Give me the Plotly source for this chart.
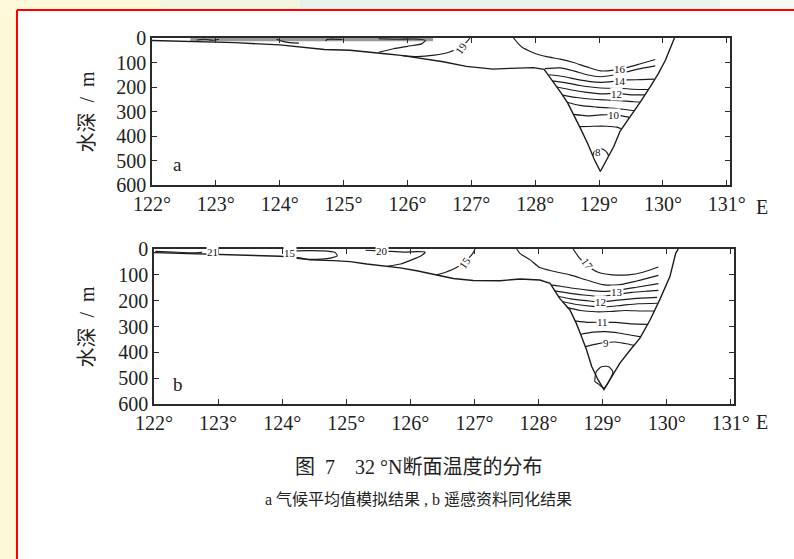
import plotly.graph_objects as go

W, H = 794, 559

SERIF = "Liberation Serif, 'Times New Roman', serif"
CJK = "'Liberation Serif', 'Noto Sans CJK SC', serif"
INK = "#1c1c1c"

# ---- axes -----------------------------------------------------------------
LON_TICKS = [122, 123, 124, 125, 126, 127, 128, 129, 130, 131]
LON_LABELS = ["122°", "123°", "124°", "125°", "126°", "127°", "128°", "129°", "130°", "131°"]
DEPTH_TICKS = [0, 100, 200, 300, 400, 500, 600]
DEPTH_LABELS = ["0", "100", "200", "300", "400", "500", "600"]
LON_RANGE = [122, 131.05]
DEPTH_RANGE = [600, 0]

# ---- panel a: climatological-mean run, (lon °E, depth m) -----------------
A_BOTTOM = [(122.0, 10), (122.6, 14), (123.3, 19), (124.0, 28), (124.3, 35), (124.7, 47),
            (125.1, 50), (125.4, 56), (125.65, 64), (125.9, 71), (126.2, 83), (126.56, 97),
            (126.92, 116), (127.34, 127), (127.6, 124), (127.97, 121), (128.14, 128),
            (128.30, 185), (128.41, 226), (128.51, 266), (128.62, 321), (128.72, 375),
            (128.83, 436), (128.93, 498), (129.02, 545), (129.12, 498), (129.23, 443),
            (129.33, 380), (129.49, 321), (129.65, 260), (129.80, 199), (129.93, 144),
            (130.04, 90), (130.12, 42), (130.18, 0)]
A_SURFACE_BAND = [(122.6, 3), (126.4, 3)]
A_SURF_1 = [(122.70, 8), (122.82, 5), (122.95, 9), (123.05, 5)]
A_SURF_2 = [(123.95, 5), (124.05, 14), (124.15, 19), (124.30, 21)]
A_SURF_3 = [(124.72, 12), (124.74, 6), (124.98, 6)]
A_SURF_4 = [(125.55, 3), (125.85, 5), (126.10, 4), (126.28, 10), (126.22, 24), (126.00, 34),
            (125.78, 44), (125.55, 58)]
A_ISO_19 = [(126.98, 0), (126.92, 18), (126.82, 38), (126.65, 58), (126.42, 70), (126.15, 76),
            (125.92, 72)]
A_ISO_1 = [(127.66, 0), (127.78, 35), (127.97, 60), (128.18, 76), (128.39, 86), (128.60, 100),
           (128.81, 118), (129.02, 134), (129.23, 131), (129.44, 120), (129.65, 105), (129.88, 88)]
A_ISO_2 = [(128.15, 125), (128.39, 122), (128.60, 134), (128.81, 150), (129.02, 158),
           (129.23, 151), (129.44, 138), (129.65, 125), (129.88, 114)]
A_ISO_3 = [(128.21, 150), (128.44, 157), (128.65, 169), (128.86, 178), (129.02, 181),
           (129.23, 177), (129.44, 171), (129.65, 170), (129.86, 168)]
A_ISO_4 = [(128.27, 175), (128.49, 183), (128.70, 194), (128.91, 201), (129.12, 205),
           (129.33, 205), (129.54, 209), (129.77, 210)]
A_ISO_5 = [(128.34, 200), (128.55, 211), (128.81, 222), (129.02, 228), (129.28, 226),
           (129.50, 232), (129.72, 232)]
A_ISO_6 = [(128.43, 233), (128.65, 243), (128.91, 250), (129.12, 253), (129.33, 256),
           (129.54, 260), (129.65, 261)]
A_ISO_7 = [(128.50, 262), (128.70, 275), (128.96, 282), (129.17, 286), (129.38, 291),
           (129.55, 297)]
A_ISO_8 = [(128.60, 312), (128.81, 318), (129.02, 314), (129.23, 314), (129.44, 322),
           (129.48, 325)]
A_ISO_9 = [(128.70, 362), (128.91, 360), (129.12, 360), (129.28, 364), (129.34, 370)]
A_ISO_10 = [(128.90, 480), (128.93, 462), (128.99, 452), (129.07, 455), (129.13, 470),
            (129.15, 482)]
A_LABELS = [("19", 126.84, 40, -55), ("16", 129.33, 126, 0), ("14", 129.33, 174, 0),
            ("12", 129.28, 227, 0), ("10", 129.23, 314, 0), ("8", 128.99, 466, 0)]

# ---- panel b: satellite-data assimilation run ----------------------------
B_BOTTOM = [(122.0, 14), (122.72, 20), (123.5, 26), (123.97, 28), (124.28, 35), (124.43, 42),
            (124.8, 45), (125.06, 49), (125.32, 58), (125.58, 66), (125.84, 73), (126.10, 84),
            (126.41, 100), (126.67, 114), (126.98, 122), (127.40, 123), (127.71, 116),
            (128.02, 120), (128.18, 133), (128.33, 191), (128.49, 236), (128.59, 288),
            (128.67, 339), (128.75, 391), (128.83, 455), (128.93, 507), (129.02, 544),
            (129.11, 507), (129.27, 442), (129.43, 391), (129.58, 346), (129.74, 275),
            (129.89, 197), (130.05, 107), (130.14, 17), (130.18, 0)]
B_SURF_1 = [(122.02, 9), (122.30, 12), (122.60, 15), (122.75, 13)]
B_LENS = [(124.05, 28), (124.07, 14), (124.23, 7), (124.64, 7), (124.82, 13), (124.86, 26),
          (124.70, 37), (124.43, 40), (124.20, 36), (124.05, 28)]
B_TONGUE = [(125.30, 5), (125.60, 8), (125.90, 12), (126.10, 10), (126.23, 12), (126.17, 26),
            (126.00, 44), (125.85, 58), (125.65, 66)]
B_ISO_15 = [(127.01, 0), (126.96, 22), (126.85, 48), (126.72, 72), (126.55, 90), (126.41, 100)]
B_ISO_1 = [(128.54, 0), (128.63, 32), (128.75, 62), (128.93, 90), (129.15, 100), (129.40, 100),
           (129.63, 90), (129.87, 70)]
B_ISO_2 = [(127.66, 0), (127.71, 17), (127.87, 42), (128.02, 72), (128.23, 86), (128.49, 100),
           (128.75, 120), (129.00, 138), (129.27, 138), (129.53, 124), (129.87, 102)]
B_ISO_3 = [(128.20, 140), (128.35, 144), (128.54, 152), (128.80, 160), (129.01, 164),
           (129.27, 158), (129.53, 148), (129.87, 134)]
B_ISO_4 = [(128.25, 162), (128.45, 170), (128.70, 178), (128.96, 183), (129.20, 177),
           (129.45, 168), (129.70, 163), (129.87, 160)]
B_ISO_5 = [(128.31, 184), (128.50, 193), (128.75, 200), (128.96, 205), (129.20, 199),
           (129.45, 193), (129.70, 189), (129.85, 187)]
B_ISO_6 = [(128.37, 203), (128.60, 215), (128.85, 222), (129.05, 224), (129.30, 218),
           (129.55, 212), (129.86, 210)]
B_ISO_7 = [(128.44, 226), (128.65, 238), (128.90, 243), (129.10, 242), (129.35, 238),
           (129.60, 240), (129.81, 240)]
B_ISO_8 = [(128.57, 278), (128.78, 284), (129.00, 283), (129.20, 284), (129.45, 290),
           (129.71, 292)]
B_ISO_9 = [(128.66, 330), (128.85, 322), (129.05, 320), (129.25, 325), (129.45, 334),
           (129.60, 340)]
B_ISO_10 = [(128.73, 378), (128.90, 368), (129.05, 362), (129.20, 360), (129.35, 366),
            (129.49, 373)]
B_LOOP = [(128.88, 513), (128.90, 475), (128.98, 456), (129.09, 455), (129.16, 475),
          (129.11, 507), (129.02, 538), (128.93, 522), (128.88, 513)]
B_LABELS = [("21", 122.92, 11, 0), ("15", 124.12, 17, 0), ("20", 125.55, 9, 0),
            ("15", 126.86, 52, -55), ("17", 128.76, 60, 55), ("13", 129.22, 166, 0),
            ("12", 128.96, 204, 0), ("11", 129.00, 283, 0), ("9", 129.06, 365, 0)]

# ---- layout geometry (pixels) ---------------------------------------------
A_X = (152, 730)
A_Y = (38, 185)
B_X = (154, 734)
B_Y = (249, 404)


def px_x(p):
    return p / W


def px_y(p):
    return 1 - p / H


fig = go.Figure()


def add_line(pts, xa, ya, width=1.15, color=INK, smooth=True):
    fig.add_trace(go.Scatter(
        x=[p[0] for p in pts], y=[p[1] for p in pts], mode="lines",
        line=dict(color=color, width=width, shape="spline" if smooth else "linear",
                  smoothing=0.6),
        xaxis=xa, yaxis=ya, hoverinfo="skip", showlegend=False))


# panel a
add_line(A_SURFACE_BAND, "x", "y", width=5, color="#9a9a9a", smooth=False)
add_line(A_BOTTOM, "x", "y", width=1.4, smooth=False)
for ln in [A_SURF_1, A_SURF_2, A_SURF_3, A_SURF_4, A_ISO_19, A_ISO_1, A_ISO_2, A_ISO_3,
           A_ISO_4, A_ISO_5, A_ISO_6, A_ISO_7, A_ISO_8, A_ISO_9, A_ISO_10]:
    add_line(ln, "x", "y")

# panel b
add_line(B_BOTTOM, "x2", "y2", width=1.4, smooth=False)
for ln in [B_SURF_1, B_LENS, B_TONGUE, B_ISO_15, B_ISO_1, B_ISO_2, B_ISO_3, B_ISO_4,
           B_ISO_5, B_ISO_6, B_ISO_7, B_ISO_8, B_ISO_9, B_ISO_10, B_LOOP]:
    add_line(ln, "x2", "y2")

axis_common = dict(
    showline=True, linecolor="#2a2a2a", linewidth=1.6, mirror="allticks",
    ticks="inside", ticklen=5, tickwidth=1.3, tickcolor="#2a2a2a",
    showgrid=False, zeroline=False, fixedrange=True, automargin=False,
    tickfont=dict(family=SERIF, size=20, color="#222"),
)

fig.update_layout(
    width=W, height=H, autosize=False,
    margin=dict(l=0, r=0, t=0, b=0, pad=0),
    paper_bgcolor="white", plot_bgcolor="white",
    showlegend=False,
    font=dict(family=SERIF, color="#222"),
    xaxis=dict(axis_common, domain=[px_x(A_X[0]), px_x(A_X[1])], range=LON_RANGE,
               tickvals=LON_TICKS, ticktext=LON_LABELS, anchor="y"),
    yaxis=dict(axis_common, domain=[px_y(A_Y[1]), px_y(A_Y[0])], range=DEPTH_RANGE,
               tickvals=DEPTH_TICKS, ticktext=DEPTH_LABELS, anchor="x"),
    xaxis2=dict(axis_common, domain=[px_x(B_X[0]), px_x(B_X[1])], range=LON_RANGE,
                tickvals=LON_TICKS, ticktext=LON_LABELS, anchor="y2"),
    yaxis2=dict(axis_common, domain=[px_y(B_Y[1]), px_y(B_Y[0])], range=DEPTH_RANGE,
                tickvals=DEPTH_TICKS, ticktext=DEPTH_LABELS, anchor="x2"),
)

# slide background around the white figure box
shapes = [
    dict(type="rect", xref="paper", yref="paper", x0=0, x1=px_x(18), y0=0, y1=1,
         fillcolor="#FDF9D8", line_width=0, layer="below"),
]
top_strip = [(0, 160, "#FDF9DA"), (160, 300, "#F2F7E0"), (300, 560, "#E6F5EC"),
             (560, 720, "#E9F6EE"), (720, 794, "#F4F9F3")]
for x0, x1, col in top_strip:
    shapes.append(dict(type="rect", xref="paper", yref="paper", x0=px_x(x0), x1=px_x(x1),
                       y0=px_y(11), y1=1, fillcolor=col, line_width=0, layer="below"))
shapes += [
    dict(type="line", xref="paper", yref="paper", x0=px_x(17), x1=px_x(17),
         y0=0, y1=px_y(10), line=dict(color="#FF0000", width=2)),
    dict(type="line", xref="paper", yref="paper", x0=px_x(17), x1=1,
         y0=px_y(10), y1=px_y(10), line=dict(color="#FF0000", width=2)),
]
fig.update_layout(shapes=shapes)

annotations = []
for txt, lon, dep, ang in A_LABELS:
    annotations.append(dict(x=lon, y=dep, xref="x", yref="y", text=txt, showarrow=False,
                            textangle=ang, bgcolor="white", borderpad=0,
                            xanchor="center", yanchor="middle",
                            font=dict(family=SERIF, size=11, color="#111111")))
for txt, lon, dep, ang in B_LABELS:
    annotations.append(dict(x=lon, y=dep, xref="x2", yref="y2", text=txt, showarrow=False,
                            textangle=ang, bgcolor="white", borderpad=0,
                            xanchor="center", yanchor="middle",
                            font=dict(family=SERIF, size=11, color="#111111")))

# panel letters
annotations.append(dict(x=122.4, y=518, xref="x", yref="y", text="a", showarrow=False,
                        xanchor="center", yanchor="middle",
                        font=dict(family=SERIF, size=19, color="#222")))
annotations.append(dict(x=122.37, y=524, xref="x2", yref="y2", text="b", showarrow=False,
                        xanchor="center", yanchor="middle",
                        font=dict(family=SERIF, size=19, color="#222")))

# depth axis titles
for yc in [(A_Y[0] + A_Y[1]) / 2, (B_Y[0] + B_Y[1]) / 2]:
    annotations.append(dict(x=px_x(86), y=px_y(yc), xref="paper", yref="paper",
                            text="水深  /  m", textangle=-90, showarrow=False,
                            xanchor="center", yanchor="middle",
                            font=dict(family=CJK, size=20, color="#222")))

# hemisphere letter after the last longitude label
for ylab in [207, 422]:
    annotations.append(dict(x=px_x(762), y=px_y(ylab), xref="paper", yref="paper",
                            text="E", showarrow=False, xanchor="center", yanchor="middle",
                            font=dict(family=SERIF, size=20, color="#222")))

# caption
annotations.append(dict(x=px_x(418), y=px_y(467), xref="paper", yref="paper",
                        text="图  7    32 °N断面温度的分布", showarrow=False,
                        xanchor="center", yanchor="middle",
                        font=dict(family=CJK, size=20, color="#222")))
annotations.append(dict(x=px_x(418), y=px_y(499), xref="paper", yref="paper",
                        text="a 气候平均值模拟结果 , b 遥感资料同化结果", showarrow=False,
                        xanchor="center", yanchor="middle",
                        font=dict(family=CJK, size=16, color="#222")))

fig.update_layout(annotations=annotations)

fig.write_html("out.html")
